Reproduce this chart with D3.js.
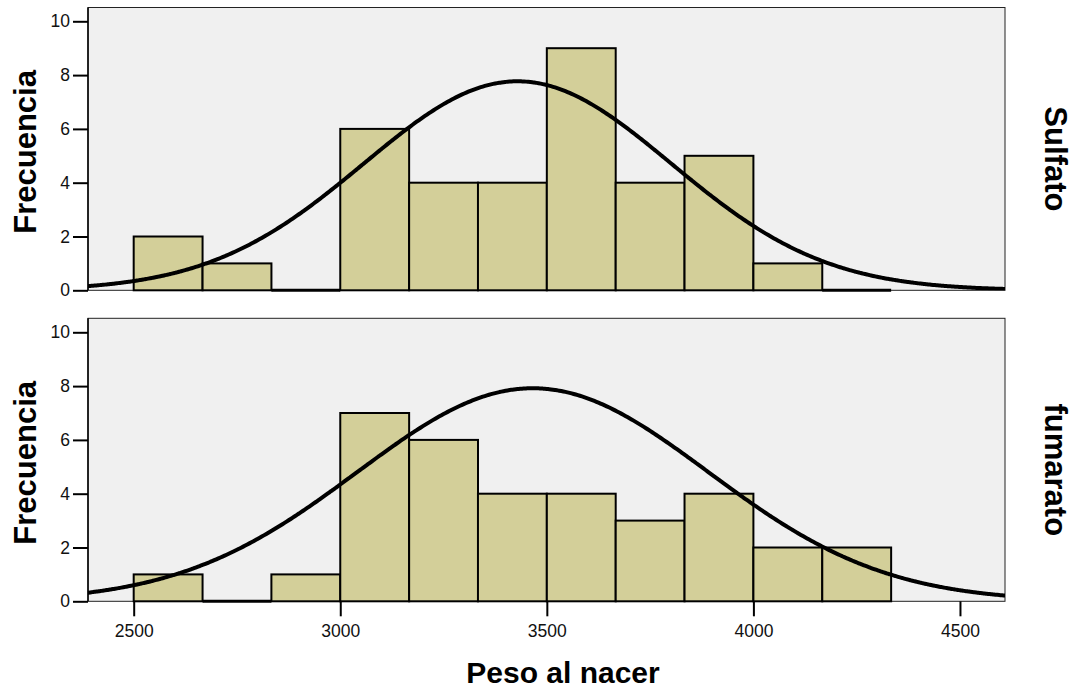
<!DOCTYPE html>
<html>
<head>
<meta charset="utf-8">
<script src="https://cdn.jsdelivr.net/npm/d3@7"></script>
<style>
  body { margin: 0; background: #fff; }
  svg { display: block; font-family: "Liberation Sans", Arial, sans-serif; }
</style>
</head>
<body>
<svg width="1080" height="691"></svg>
<script>
// histogram bins (lower edges), shared by both panels
var binLows = [2500, 2666.7, 2833.3, 3000, 3166.7, 3333.3, 3500, 3666.7, 3833.3, 4000, 4166.7];
var binWidth = 166.7;

var panelNames = ["Sulfato", "fumarato"];
var sulfatoCounts = [2, 1, 0, 6, 4, 4, 9, 4, 5, 1, 0];
var fumaratoCounts = [1, 0, 1, 7, 6, 4, 4, 3, 4, 2, 2];

// fitted normal curve per panel
var curveMean = [3429, 3466];
var curveSd = [372, 425];
var curvePeak = [7.77, 7.92];

var xTicks = [2500, 3000, 3500, 4000, 4500];
var yTicks = [0, 2, 4, 6, 8, 10];

var svg = d3.select("svg");

var left = 88, right = 1005;
var panelTops = [7.5, 318.3],
    panelBottoms = [290.3, 601.3];

var x = d3.scaleLinear()
    .domain([2389.4, 4609])
    .range([left, right]);

var counts = [sulfatoCounts, fumaratoCounts];

panelNames.forEach(function(name, p) {
  var top = panelTops[p], bottom = panelBottoms[p];
  var y = d3.scaleLinear()
      .domain([0, 10])
      .range([bottom, bottom - 269]);

  var g = svg.append("g");

  g.append("rect")
      .attr("x", left)
      .attr("y", top)
      .attr("width", right - left)
      .attr("height", bottom - top)
      .style("fill", "#f0f0f0")
      .style("stroke", "#222")
      .style("stroke-width", 1);

  var clipId = "clip" + p;
  svg.append("clipPath").attr("id", clipId)
    .append("rect")
      .attr("x", left)
      .attr("y", top)
      .attr("width", right - left)
      .attr("height", bottom - top);

  var bins = binLows.map(function(lo, i) { return {lo: lo, n: counts[p][i]}; });

  g.append("g")
    .selectAll("rect")
    .data(bins.filter(function(d) { return d.n > 0; }))
    .enter().append("rect")
      .attr("x", function(d) { return x(d.lo); })
      .attr("y", function(d) { return y(d.n); })
      .attr("width", function(d) { return x(d.lo + binWidth) - x(d.lo); })
      .attr("height", function(d) { return y(0) - y(d.n); })
      .style("fill", "#d3cf99")
      .style("stroke", "#000")
      .style("stroke-width", 2);

  // empty bins still show their base
  g.append("g")
    .selectAll("line")
    .data(bins.filter(function(d) { return d.n === 0; }))
    .enter().append("line")
      .attr("x1", function(d) { return x(d.lo); })
      .attr("x2", function(d) { return x(d.lo + binWidth); })
      .attr("y1", y(0))
      .attr("y2", y(0))
      .style("stroke", "#000")
      .style("stroke-width", 3);

  var xs = d3.range(2380, 4620, 5);
  var line = d3.line()
      .x(function(v) { return x(v); })
      .y(function(v) {
        var z = (v - curveMean[p]) / curveSd[p];
        return y(curvePeak[p] * Math.exp(-0.5 * z * z));
      })
      .curve(d3.curveBasis);

  g.append("path")
      .datum(xs)
      .attr("clip-path", "url(#" + clipId + ")")
      .attr("d", line)
      .style("fill", "none")
      .style("stroke", "#000")
      .style("stroke-width", 4);

  var yAxis = g.append("g")
      .attr("transform", "translate(" + left + ",0)")
      .call(d3.axisLeft(y).tickValues(yTicks).tickSize(15).tickPadding(3));
  yAxis.select(".domain").remove();
  yAxis.selectAll("line").style("stroke", "#000").style("stroke-width", 2);
  yAxis.selectAll("text").style("font-size", "17.5px").style("fill", "#111")
      .attr("font-family", null);

  g.append("line")
      .attr("x1", left).attr("x2", left)
      .attr("y1", top).attr("y2", bottom)
      .style("stroke", "#000").style("stroke-width", 1.5);

  g.append("text")
      .attr("transform", "translate(36," + ((top + bottom) / 2 + 3) + ") rotate(-90)")
      .attr("text-anchor", "middle")
      .style("font-size", "31px")
      .style("font-weight", "bold")
      .text("Frecuencia");

  g.append("text")
      .attr("transform", "translate(1045," + ((top + bottom) / 2 + 10) + ") rotate(90)")
      .attr("text-anchor", "middle")
      .style("font-size", "31px")
      .style("font-weight", "bold")
      .text(name);

  if (p === 1) {
    var xAxis = g.append("g")
        .attr("transform", "translate(0," + bottom + ")")
        .call(d3.axisBottom(x).tickValues(xTicks).tickSize(15).tickPadding(8).tickFormat(d3.format("d")));
    xAxis.select(".domain").remove();
    xAxis.selectAll("line").style("stroke", "#000").style("stroke-width", 2);
    xAxis.selectAll("text").style("font-size", "17.5px").style("fill", "#111")
        .attr("font-family", null);
  }
});

svg.append("text")
    .attr("x", 563)
    .attr("y", 683)
    .attr("text-anchor", "middle")
    .style("font-size", "30px")
    .style("font-weight", "bold")
    .text("Peso al nacer");
</script>
</body>
</html>
